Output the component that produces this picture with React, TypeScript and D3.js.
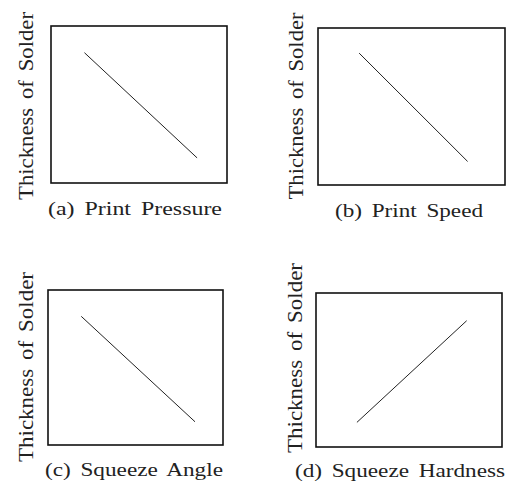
import React, { useEffect, useRef } from 'react';
import * as d3 from 'd3';

// panel captions and the two end points of each trend line (normalised 0..1)
const captions = [
  '(a) Print Pressure',
  '(b) Print Speed',
  '(c) Squeeze Angle',
  '(d) Squeeze Hardness',
];
const yLabel = 'Thickness of Solder';
const lineX = [
  [0.19, 0.83],
  [0.22, 0.8],
  [0.19, 0.84],
  [0.22, 0.81],
];
const lineY = [
  [0.83, 0.16],
  [0.84, 0.15],
  [0.83, 0.15],
  [0.16, 0.82],
];

type Box = {
  left: number;
  right: number;
  top: number;
  bottom: number;
  labelX: number;
  labelY: number;
  labelLen: number;
  capX: number;
  capY: number;
  capLen: number;
};

const boxes: Box[] = [
  { left: 51, right: 227, top: 26, bottom: 183, labelX: 33, labelY: 106, labelLen: 188, capX: 48, capY: 215, capLen: 174 },
  { left: 318, right: 505, top: 28, bottom: 185, labelX: 303, labelY: 106, labelLen: 187, capX: 335, capY: 217, capLen: 148 },
  { left: 48, right: 223, top: 290, bottom: 445, labelX: 33, labelY: 367, labelLen: 190, capX: 45, capY: 476, capLen: 178 },
  { left: 316, right: 502, top: 293, bottom: 447, labelX: 302, labelY: 358, labelLen: 190, capX: 295, capY: 477, capLen: 210 },
];

const App: React.FC = () => {
  const svgRef = useRef<SVGSVGElement>(null);

  useEffect(() => {
    if (!svgRef.current) return;
    const svg = d3.select(svgRef.current);
    svg.selectAll('*').remove();

    const font = '"Liberation Serif", serif';

    boxes.forEach((b, i) => {
      const x = d3.scaleLinear().domain([0, 1]).range([b.left, b.right]);
      const y = d3.scaleLinear().domain([0, 1]).range([b.bottom, b.top]);

      svg
        .append('rect')
        .attr('x', b.left)
        .attr('y', b.top)
        .attr('width', b.right - b.left)
        .attr('height', b.bottom - b.top)
        .attr('fill', 'none')
        .attr('stroke', '#111')
        .attr('stroke-width', 1.6);

      const pts: [number, number][] = lineX[i].map((v, k) => [x(v), y(lineY[i][k])]);
      svg
        .append('path')
        .attr('d', d3.line()(pts))
        .attr('fill', 'none')
        .attr('stroke', '#222')
        .attr('stroke-width', 1);

      svg
        .append('text')
        .attr('transform', `translate(${b.labelX},${b.labelY}) rotate(-90)`)
        .attr('text-anchor', 'middle')
        .attr('font-family', font)
        .attr('font-size', 22)
        .attr('word-spacing', 3)
        .attr('fill', '#222')
        .attr('textLength', b.labelLen)
        .attr('lengthAdjust', 'spacingAndGlyphs')
        .text(yLabel);

      svg
        .append('text')
        .attr('x', b.capX)
        .attr('y', b.capY)
        .attr('font-family', font)
        .attr('font-size', 18)
        .attr('word-spacing', 3)
        .attr('fill', '#222')
        .attr('textLength', b.capLen)
        .attr('lengthAdjust', 'spacingAndGlyphs')
        .text(captions[i]);
    });
  }, []);

  return (
    <svg
      ref={svgRef}
      width={510}
      height={483}
      style={{ position: 'absolute', left: 0, top: 0, background: '#fff' }}
    />
  );
};

export default App;
